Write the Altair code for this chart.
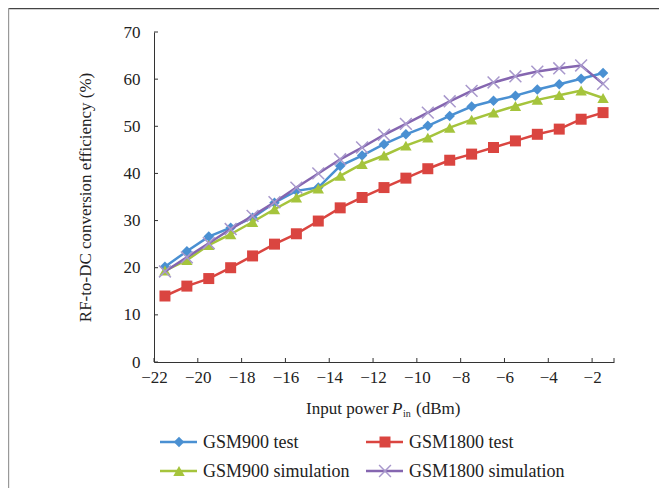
import altair as alt
import pandas as pd

# ---------------- data ----------------
x_dbm = [-21.5, -20.5, -19.5, -18.5, -17.5, -16.5, -15.5, -14.5, -13.5, -12.5, -11.5,
         -10.5, -9.5, -8.5, -7.5, -6.5, -5.5, -4.5, -3.5, -2.5, -1.5]
gsm900_test = [20.2, 23.5, 26.6, 28.5, 30.6, 33.8, 36.3, 37.0, 41.6, 43.8, 46.2,
               48.3, 50.1, 52.2, 54.2, 55.4, 56.5, 57.8, 58.9, 60.1, 61.3]
gsm1800_test = [14.0, 16.1, 17.7, 20.0, 22.5, 25.0, 27.2, 29.9, 32.7, 34.9, 37.0,
                39.0, 41.0, 42.8, 44.1, 45.5, 46.9, 48.3, 49.4, 51.5, 52.9]
gsm900_sim = [19.4, 21.6, 24.8, 27.1, 29.7, 32.4, 34.9, 36.8, 39.5, 42.0, 43.8,
              45.9, 47.6, 49.7, 51.4, 52.9, 54.3, 55.6, 56.6, 57.6, 56.0]
gsm1800_sim = [19.2, 22.2, 25.2, 28.2, 31.0, 33.9, 37.0, 40.0, 43.0, 45.5, 48.2,
               50.5, 52.9, 55.3, 57.5, 59.3, 60.6, 61.6, 62.3, 62.9, 59.0]
series_names = ["GSM900 test", "GSM1800 test", "GSM900 simulation", "GSM1800 simulation"]
x_ticks = [-22, -20, -18, -16, -14, -12, -10, -8, -6, -4, -2]
x_tick_marks = x_ticks + [-1]
y_ticks = [0, 10, 20, 30, 40, 50, 60, 70]

rows = []
for name, vals in zip(series_names, [gsm900_test, gsm1800_test, gsm900_sim, gsm1800_sim]):
    for xv, yv in zip(x_dbm, vals):
        rows.append({"series": name, "x": xv, "y": yv})
df = pd.DataFrame(rows)

# ---------------- styles ----------------
W, H = 460, 330
FONT = "Liberation Serif"
TXT = "#222222"
X_PATH = "M-1,-1L1,1M-1,1L1,-1"
styles = {
    "GSM900 test": dict(color="#4A90D2", shape="diamond", size=110, filled=True, mcolor="#4A90D2"),
    "GSM1800 test": dict(color="#DA4540", shape="square", size=121, filled=True, mcolor="#DA4540"),
    "GSM900 simulation": dict(color="#A5C43C", shape="triangle-up", size=130, filled=True, mcolor="#A5C43C"),
    "GSM1800 simulation": dict(color="#8566B0", shape=X_PATH, size=140, filled=False, mcolor="#A898CC"),
}

xscale = alt.Scale(domain=[-22, -1], nice=False, zero=False)
yscale = alt.Scale(domain=[0, 70], nice=False, zero=True)

xaxis = alt.Axis(values=x_ticks, ticks=False, grid=False, title=None,
                 labelFont=FONT, labelFontSize=17, labelColor=TXT, labelPadding=7,
                 labelFlush=False, domainColor="#333333", domainWidth=1)
yaxis = alt.Axis(values=y_ticks, ticks=False, grid=False,
                 title="RF-to-DC conversion efficiency (%)",
                 titleFont=FONT, titleFontSize=17, titleFontWeight="normal", titleColor=TXT,
                 titleAngle=270, titleAlign="center", titleBaseline="middle",
                 titleX=-69, titleY=165,
                 labelFont=FONT, labelFontSize=17, labelColor=TXT, labelPadding=14,
                 domainColor="#333333", domainWidth=1)

base = alt.Chart(df).encode(
    x=alt.X("x:Q", scale=xscale, axis=xaxis),
    y=alt.Y("y:Q", scale=yscale, axis=yaxis),
)

layers = []
for name in series_names:
    s = styles[name]
    sub = base.transform_filter(alt.datum.series == name)
    layers.append(sub.mark_line(color=s["color"], strokeWidth=2.5))
    if s["filled"]:
        pts = sub.mark_point(shape=s["shape"], size=s["size"], filled=True,
                             color=s["mcolor"], opacity=1)
    else:
        pts = sub.mark_point(shape=s["shape"], size=s["size"], filled=False,
                             color=s["mcolor"], strokeWidth=1.5, opacity=1)
    layers.append(pts)

# inward tick marks (same scales and axes as the data layers)
ytk = alt.Chart(pd.DataFrame({"y": y_ticks})).mark_rule(color="#333333", strokeWidth=1).encode(
    y=alt.Y("y:Q", scale=yscale, axis=yaxis), x=alt.value(0), x2=alt.value(4))
xtk = alt.Chart(pd.DataFrame({"x": x_tick_marks})).mark_rule(color="#333333", strokeWidth=1).encode(
    x=alt.X("x:Q", scale=xscale, axis=xaxis), y=alt.value(H), y2=alt.value(H - 4))
layers += [ytk, xtk]

# ---------------- legend (manual) ----------------
one = pd.DataFrame({"a": [0]})
leg_pos = {
    "GSM900 test": (6, 410),
    "GSM1800 test": (212, 410),
    "GSM900 simulation": (6, 439),
    "GSM1800 simulation": (212, 439),
}
for name in series_names:
    s = styles[name]
    lx, ly = leg_pos[name]
    layers.append(alt.Chart(one).mark_rule(color=s["color"], strokeWidth=2.5).encode(
        x=alt.value(lx), x2=alt.value(lx + 37), y=alt.value(ly)))
    if s["filled"]:
        lm = alt.Chart(one).mark_point(shape=s["shape"], size=s["size"], filled=True,
                                       color=s["mcolor"], opacity=1)
    else:
        lm = alt.Chart(one).mark_point(shape=s["shape"], size=s["size"], filled=False,
                                       color=s["mcolor"], strokeWidth=1.5, opacity=1)
    layers.append(lm.encode(x=alt.value(lx + 19), y=alt.value(ly)))
    layers.append(alt.Chart(one).mark_text(font=FONT, fontSize=18, align="left",
                                           baseline="middle", color=TXT).encode(
        x=alt.value(lx + 43), y=alt.value(ly + 1), text=alt.value(name)))

# ---------------- x-axis title with italic P and subscript ----------------
ty = 377
layers.append(alt.Chart(one).mark_text(font=FONT, fontSize=17, align="left", baseline="middle",
                                       color=TXT).encode(x=alt.value(152), y=alt.value(ty),
                                                         text=alt.value("Input power")))
layers.append(alt.Chart(one).mark_text(font=FONT, fontSize=17, fontStyle="italic", align="left",
                                       baseline="middle", color=TXT).encode(
    x=alt.value(238), y=alt.value(ty), text=alt.value("P")))
layers.append(alt.Chart(one).mark_text(font=FONT, fontSize=10, align="left", baseline="middle",
                                       color=TXT).encode(x=alt.value(249), y=alt.value(ty + 5),
                                                         text=alt.value("in")))
layers.append(alt.Chart(one).mark_text(font=FONT, fontSize=17, align="left", baseline="middle",
                                       color=TXT).encode(x=alt.value(262), y=alt.value(ty),
                                                         text=alt.value("(dBm)")))

# ---------------- outer frame (top and left) ----------------
layers.append(alt.Chart(one).mark_rule(color="#444444", strokeWidth=1.2).encode(
    x=alt.value(-146), x2=alt.value(W + 45), y=alt.value(-23.4)))
layers.append(alt.Chart(one).mark_rule(color="#999999", strokeWidth=1.2).encode(
    x=alt.value(-145.4), y=alt.value(-24), y2=alt.value(H + 126)))

chart = alt.layer(*layers).properties(
    width=W, height=H,
    autosize=alt.AutoSizeParams(type="none"),
    padding={"left": 146, "top": 24, "right": 45, "bottom": 126},
    background="white",
).configure_view(stroke=None)

chart.save("out.html", embed_options={"renderer": "svg", "actions": False})
